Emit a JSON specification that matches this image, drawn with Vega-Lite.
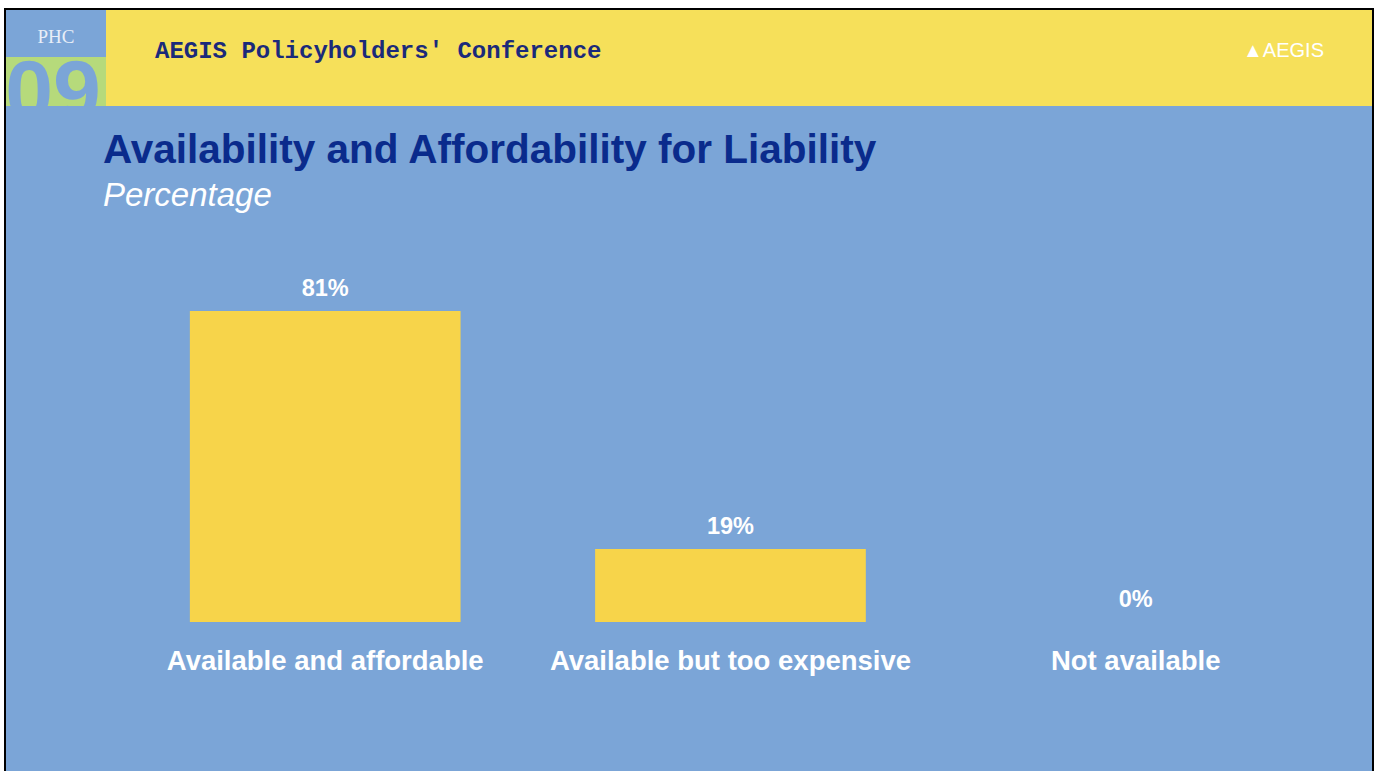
{
  "$schema": "https://vega.github.io/schema/vega-lite/v6.json",
  "background": "white",
  "padding": {"left": 4, "top": 8, "right": 0, "bottom": 0},
  "spacing": 0,
  "config": {"view": {"stroke": null}, "concat": {"spacing": 0}},
  "datasets": {
    "bars": [
      {"category": "Available and affordable", "share": 0.81},
      {"category": "Available but too expensive", "share": 0.19},
      {"category": "Not available", "share": 0.0}
    ],
    "badge": [{"label": "09"}]
  },
  "hconcat": [
    {
      "width": 2,
      "height": 778,
      "data": {"name": "badge"},
      "mark": {"type": "rect", "color": "#000000"},
      "encoding": {}
    },
    {
      "spacing": 0,
      "vconcat": [
        {
          "width": 1366,
          "height": 2,
          "data": {"name": "badge"},
          "mark": {"type": "rect", "color": "#000000"},
          "encoding": {}
        },
        {
          "spacing": 0,
          "hconcat": [
            {
              "spacing": 0,
              "vconcat": [
                {
                  "width": 100,
                  "height": 47,
                  "title": {"text": "PHC", "anchor": "middle", "frame": "group", "offset": -37, "font": "Liberation Serif", "fontSize": 19, "fontWeight": "normal", "color": "#E8EEF7"},
                  "data": {"name": "badge"},
                  "mark": {"type": "rect", "color": "#7BA5D7"},
                  "encoding": {}
                },
                {
                  "width": 100,
                  "height": 49,
                  "view": {"fill": "#B6DA7B", "stroke": null},
                  "data": {"name": "badge"},
                  "mark": {"type": "text", "clip": true, "font": "Liberation Sans", "fontWeight": "bold", "fontSize": 86, "color": "#7BA5D7", "align": "center", "baseline": "top", "dy": -30, "dx": -3},
                  "encoding": {"text": {"field": "label"}}
                }
              ]
            },
            {
              "width": 1044,
              "height": 96,
              "title": {"text": "AEGIS Policyholders' Conference", "anchor": "start", "frame": "group", "dx": 49, "offset": -53, "font": "Liberation Mono", "fontSize": 24, "fontWeight": "bold", "color": "#1B2A7A"},
              "data": {"name": "badge"},
              "mark": {"type": "rect", "color": "#F6E05A"},
              "encoding": {}
            },
            {
              "width": 222,
              "height": 96,
              "title": {"text": "▲AEGIS", "anchor": "end", "frame": "group", "dx": -48, "offset": -51, "font": "Liberation Sans", "fontSize": 20, "fontWeight": "normal", "color": "#FFFFFF"},
              "data": {"name": "badge"},
              "mark": {"type": "rect", "color": "#F6E05A"},
              "encoding": {}
            }
          ]
        },
        {
          "width": 1366,
          "height": 680,
          "view": {"fill": "#7BA5D7", "stroke": null},
          "title": {
            "text": "Availability and Affordability for Liability",
            "subtitle": "Percentage",
            "anchor": "start",
            "frame": "group",
            "dx": 97,
            "offset": -107,
            "font": "Liberation Sans",
            "fontSize": 40.5,
            "fontWeight": "bold",
            "color": "#0A2B8C",
            "subtitleFont": "Liberation Sans",
            "subtitleFontSize": 33,
            "subtitleFontStyle": "italic",
            "subtitleColor": "#FFFFFF",
            "subtitlePadding": 9
          },
          "data": {"name": "bars"},
          "encoding": {
            "x": {
              "field": "category",
              "type": "nominal",
              "sort": null,
              "scale": {"paddingInner": 0.332, "paddingOuter": 0.3514, "align": 0.6456},
              "axis": {
                "orient": "bottom",
                "offset": -164,
                "title": null,
                "domain": false,
                "ticks": false,
                "tickSize": 0,
                "labelAngle": 0,
                "labelPadding": 47,
                "labelBaseline": "alphabetic",
                "labelFont": "Liberation Sans",
                "labelFontSize": 27.5,
                "labelFontWeight": "bold",
                "labelColor": "#FFFFFF",
                "labelLimit": 0,
                "grid": false
              }
            }
          },
          "layer": [
            {
              "mark": {"type": "bar", "color": "#F7D44A"},
              "encoding": {
                "y": {"field": "share", "type": "quantitative", "scale": {"domain": [-0.4271, 1.3439], "zero": false, "nice": false}, "axis": null},
                "y2": {"datum": 0}
              }
            },
            {
              "mark": {"type": "text", "font": "Liberation Sans", "fontSize": 23.5, "fontWeight": "bold", "color": "#FFFFFF", "baseline": "alphabetic", "align": "center", "dy": -15},
              "encoding": {
                "y": {"field": "share", "type": "quantitative"},
                "text": {"field": "share", "type": "quantitative", "format": ".0%"}
              }
            }
          ]
        }
      ]
    },
    {
      "width": 2,
      "height": 778,
      "data": {"name": "badge"},
      "mark": {"type": "rect", "color": "#000000"},
      "encoding": {}
    }
  ]
}
